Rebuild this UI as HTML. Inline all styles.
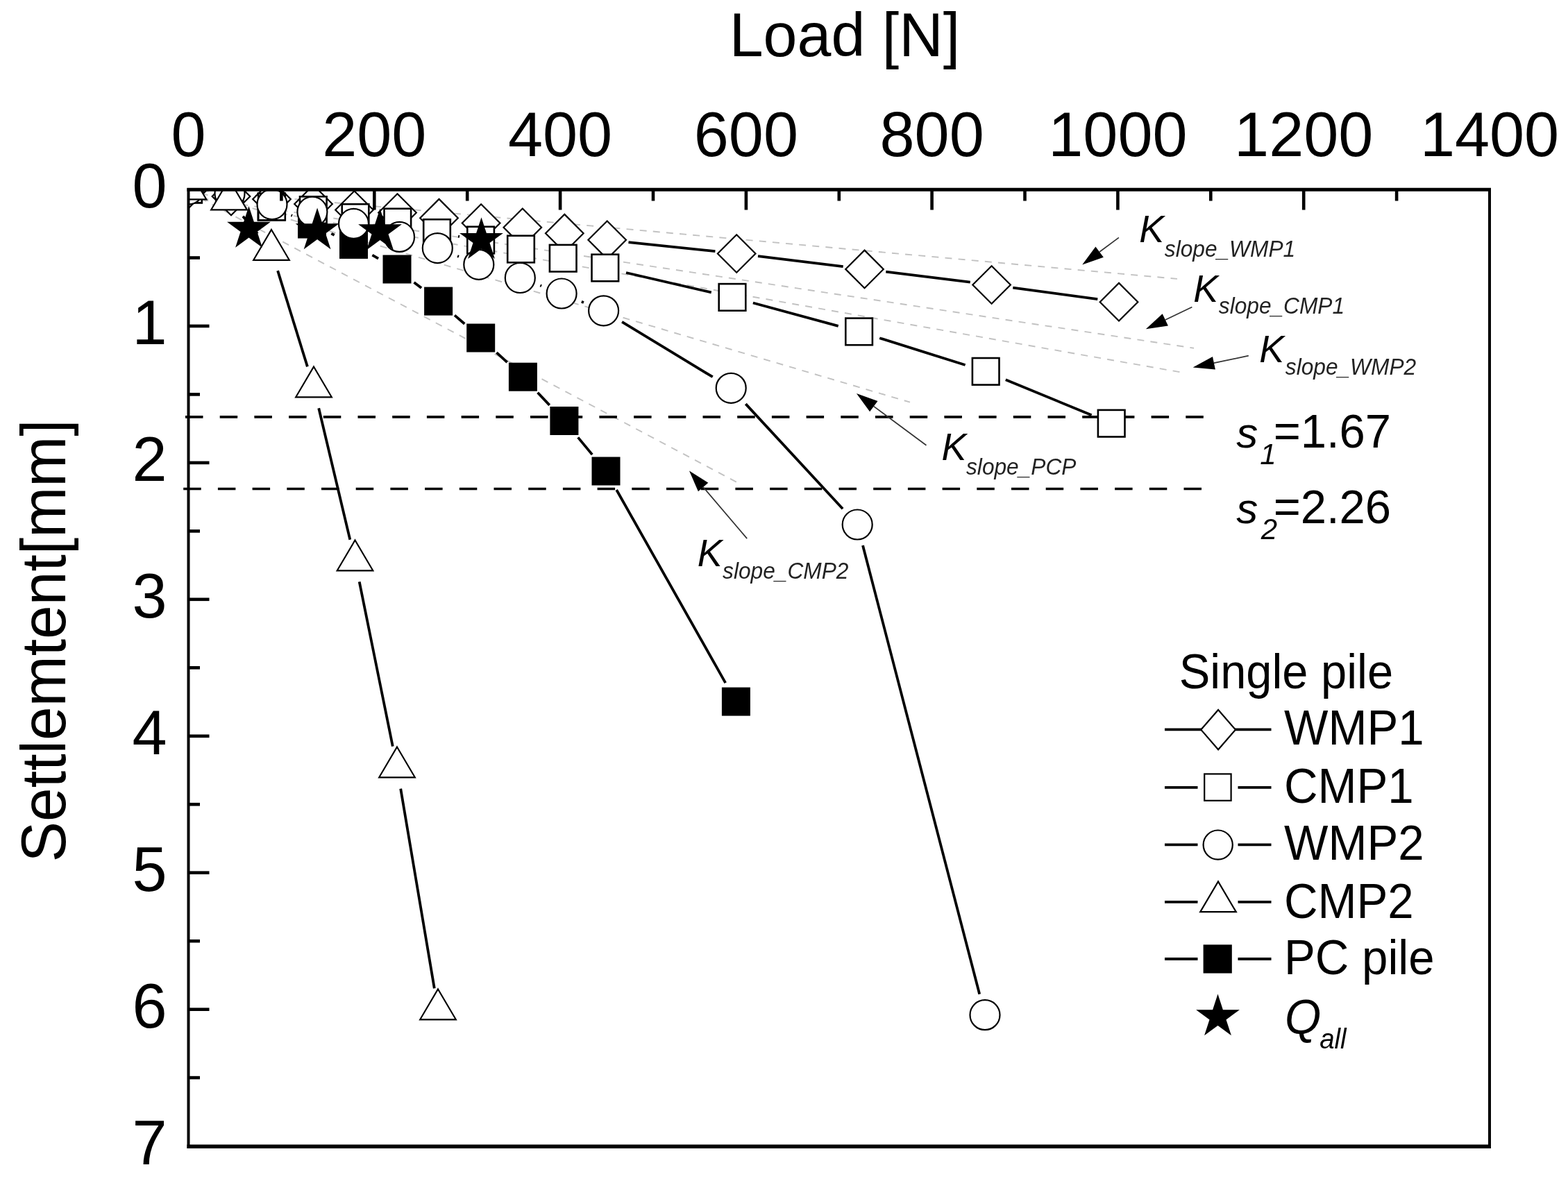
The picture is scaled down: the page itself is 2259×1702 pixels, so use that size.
<!DOCTYPE html><html><head><meta charset="utf-8"><title>Load-settlement</title><style>html,body{margin:0;padding:0;background:#fff;width:2259px;height:1702px;overflow:hidden}</style></head><body><svg width="2259" height="1702" viewBox="0 0 2259 1702" style="display:block;font-family:'Liberation Sans',Arial,sans-serif">
<rect width="2259" height="1702" fill="#fff"/>
<defs><clipPath id="pc"><rect x="271.5" y="273.0" width="1874.5" height="1378.6"/></clipPath></defs>
<g stroke="#c2c2c2" stroke-width="1.9" stroke-dasharray="10 9.2" fill="none"><line x1="271.5" y1="273.0" x2="1696.0" y2="401.9"/><line x1="271.5" y1="283.0" x2="1720.0" y2="501.7"/><line x1="271.5" y1="284.3" x2="1703.0" y2="536.8"/><line x1="271.5" y1="273.0" x2="1311.0" y2="579.7"/><line x1="271.5" y1="276.5" x2="1066.3" y2="697.5"/></g>
<g stroke="#000" stroke-width="3.6" stroke-dasharray="25.5 24.2" fill="none"><line x1="267" y1="600.9" x2="1734" y2="600.9"/><line x1="264.2" y1="704.5" x2="1732" y2="704.5"/></g>
<g clip-path="url(#pc)">
<g stroke="#000" stroke-width="3.8" fill="none" stroke-linecap="butt">
<line x1="905.5" y1="349.1" x2="1030.4" y2="362.2"/><line x1="1092.0" y1="369.2" x2="1214.7" y2="384.2"/><line x1="1276.3" y1="391.7" x2="1397.8" y2="406.7"/><line x1="1459.3" y1="414.6" x2="1581.3" y2="431.1"/>
<line x1="660.1" y1="340.6" x2="662.0" y2="340.9"/><line x1="902.0" y1="393.0" x2="1024.8" y2="421.4"/><line x1="1084.9" y1="436.5" x2="1207.7" y2="469.8"/><line x1="1267.2" y1="487.2" x2="1390.6" y2="526.0"/><line x1="1448.8" y1="547.2" x2="1572.6" y2="598.3"/>
<line x1="539.3" y1="331.0" x2="545.7" y2="332.8"/><line x1="659.1" y1="369.1" x2="661.0" y2="369.8"/><line x1="778.3" y1="411.4" x2="780.1" y2="412.1"/><line x1="837.8" y1="434.8" x2="840.9" y2="436.0"/><line x1="896.1" y1="463.9" x2="1026.7" y2="543.2"/><line x1="1074.3" y1="582.1" x2="1214.1" y2="733.2"/><line x1="1243.0" y1="786.0" x2="1411.2" y2="1432.7"/>
<line x1="350.0" y1="311.7" x2="371.0" y2="336.8"/><line x1="400.1" y1="390.1" x2="442.9" y2="528.4"/><line x1="459.2" y1="588.2" x2="504.3" y2="777.8"/><line x1="517.7" y1="838.4" x2="565.8" y2="1075.6"/><line x1="577.2" y1="1136.6" x2="625.8" y2="1424.4"/>
<line x1="419.5" y1="310.2" x2="421.0" y2="310.8"/><line x1="477.3" y1="336.6" x2="481.7" y2="338.8"/><line x1="536.4" y1="367.7" x2="545.1" y2="372.7"/><line x1="596.5" y1="407.0" x2="607.1" y2="415.1"/><line x1="655.0" y1="454.4" x2="669.3" y2="466.7"/><line x1="715.4" y1="508.1" x2="730.7" y2="522.1"/><line x1="774.6" y1="565.8" x2="791.7" y2="583.9"/><line x1="832.7" y1="630.4" x2="853.2" y2="655.1"/><line x1="888.2" y1="706.0" x2="1045.2" y2="984.1"/>
</g>
<g fill="#000" stroke="none"><rect x="251.0" y="252.5" width="41.0" height="41.0"/><rect x="310.5" y="258.5" width="41.0" height="41.0"/><rect x="370.5" y="277.5" width="41.0" height="41.0"/><rect x="429.0" y="302.5" width="41.0" height="41.0"/><rect x="489.0" y="331.9" width="41.0" height="41.0"/><rect x="551.5" y="367.5" width="41.0" height="41.0"/><rect x="611.1" y="413.6" width="41.0" height="41.0"/><rect x="672.2" y="466.5" width="41.0" height="41.0"/><rect x="732.9" y="522.7" width="41.0" height="41.0"/><rect x="792.4" y="586.0" width="41.0" height="41.0"/><rect x="852.5" y="658.5" width="41.0" height="41.0"/><rect x="1039.9" y="990.6" width="41.0" height="41.0"/></g>
<g stroke="#000" stroke-width="2.2" fill="#fff" stroke-linejoin="miter"><path d="M271.5,245.7L298.8,273.0L271.5,300.3L244.2,273.0Z"/><path d="M333.0,255.7L360.3,283.0L333.0,310.3L305.7,283.0Z"/><path d="M391.5,259.7L418.8,287.0L391.5,314.3L364.2,287.0Z"/><path d="M451.5,266.7L478.8,294.0L451.5,321.3L424.2,294.0Z"/><path d="M510.5,275.2L537.8,302.5L510.5,329.8L483.2,302.5Z"/><path d="M572.5,279.2L599.8,306.5L572.5,333.8L545.2,306.5Z"/><path d="M632.5,286.9L659.8,314.2L632.5,341.5L605.2,314.2Z"/><path d="M693.1,294.2L720.4,321.5L693.1,348.8L665.8,321.5Z"/><path d="M752.8,300.5L780.1,327.8L752.8,355.1L725.5,327.8Z"/><path d="M813.3,308.9L840.6,336.2L813.3,363.5L786.0,336.2Z"/><path d="M874.7,318.5L902.0,345.8L874.7,373.1L847.4,345.8Z"/><path d="M1061.2,338.2L1088.5,365.5L1061.2,392.8L1033.9,365.5Z"/><path d="M1245.5,360.6L1272.8,387.9L1245.5,415.2L1218.2,387.9Z"/><path d="M1428.6,383.2L1455.9,410.5L1428.6,437.8L1401.3,410.5Z"/><path d="M1612.0,407.9L1639.3,435.2L1612.0,462.5L1584.7,435.2Z"/></g>
<g stroke="#000" stroke-width="2.6" fill="#fff"><rect x="252.2" y="253.7" width="38.6" height="38.6"/><rect x="311.7" y="261.7" width="38.6" height="38.6"/><rect x="372.2" y="278.7" width="38.6" height="38.6"/><rect x="432.0" y="283.3" width="38.6" height="38.6"/><rect x="492.7" y="294.2" width="38.6" height="38.6"/><rect x="553.5" y="300.7" width="38.6" height="38.6"/><rect x="610.2" y="316.2" width="38.6" height="38.6"/><rect x="673.3" y="326.7" width="38.6" height="38.6"/><rect x="731.2" y="339.7" width="38.6" height="38.6"/><rect x="791.9" y="352.9" width="38.6" height="38.6"/><rect x="852.5" y="366.7" width="38.6" height="38.6"/><rect x="1035.7" y="409.1" width="38.6" height="38.6"/><rect x="1218.3" y="458.6" width="38.6" height="38.6"/><rect x="1400.9" y="516.0" width="38.6" height="38.6"/><rect x="1581.9" y="590.9" width="38.6" height="38.6"/></g>
<g stroke="#000" stroke-width="2.2" fill="#fff" stroke-linejoin="miter">
<circle cx="271.5" cy="273.0" r="21.5"/><circle cx="331.0" cy="279.0" r="21.5"/><circle cx="392.0" cy="294.5" r="21.5"/><circle cx="449.9" cy="305.2" r="21.5"/><circle cx="509.5" cy="322.4" r="21.5"/><circle cx="575.5" cy="341.4" r="21.5"/><circle cx="630.3" cy="357.6" r="21.5"/><circle cx="689.8" cy="381.3" r="21.5"/><circle cx="749.3" cy="400.5" r="21.5"/><circle cx="809.1" cy="423.0" r="21.5"/><circle cx="869.6" cy="447.8" r="21.5"/><circle cx="1053.2" cy="559.3" r="21.5"/><circle cx="1235.2" cy="756.0" r="21.5"/><circle cx="1419.0" cy="1462.7" r="21.5"/>
<path d="M271.5,243.5L297.3,287.3L245.7,287.3Z"/><path d="M330.0,258.5L355.8,302.3L304.2,302.3Z"/><path d="M391.0,331.0L416.8,374.8L365.2,374.8Z"/><path d="M452.0,528.5L477.8,572.3L426.2,572.3Z"/><path d="M511.5,778.5L537.3,822.3L485.7,822.3Z"/><path d="M572.0,1076.5L597.8,1120.3L546.2,1120.3Z"/><path d="M631.0,1425.5L656.8,1469.3L605.2,1469.3Z"/>
</g>
<g fill="#000" stroke="none"><polygon points="358.5,297.0 365.9,319.8 389.9,319.8 370.5,333.9 377.9,356.7 358.5,342.6 339.1,356.7 346.5,333.9 327.1,319.8 351.1,319.8"/><polygon points="457.1,299.5 464.5,322.3 488.5,322.3 469.1,336.4 476.5,359.2 457.1,345.1 437.7,359.2 445.1,336.4 425.7,322.3 449.7,322.3"/><polygon points="547.5,300.5 554.9,323.3 578.9,323.3 559.5,337.4 566.9,360.2 547.5,346.1 528.1,360.2 535.5,337.4 516.1,323.3 540.1,323.3"/><polygon points="693.5,313.2 700.9,336.0 724.9,336.0 705.5,350.1 712.9,372.9 693.5,358.8 674.1,372.9 681.5,350.1 662.1,336.0 686.1,336.0"/></g>
</g>
<g stroke="#000" fill="none"><line x1="269.5" y1="273.3" x2="2148.0" y2="273.3" stroke-width="5"/><line x1="269.5" y1="1652.2" x2="2148.0" y2="1652.2" stroke-width="5.6"/><line x1="271.5" y1="271" x2="271.5" y2="1655" stroke-width="4"/><line x1="2146.0" y1="271" x2="2146.0" y2="1655" stroke-width="4"/></g>
<g stroke="#000" stroke-width="4.6"><line x1="405.4" y1="273.0" x2="405.4" y2="289.5"/><line x1="539.3" y1="273.0" x2="539.3" y2="302.5"/><line x1="673.2" y1="273.0" x2="673.2" y2="289.5"/><line x1="807.1" y1="273.0" x2="807.1" y2="302.5"/><line x1="941.0" y1="273.0" x2="941.0" y2="289.5"/><line x1="1074.9" y1="273.0" x2="1074.9" y2="302.5"/><line x1="1208.8" y1="273.0" x2="1208.8" y2="289.5"/><line x1="1342.6" y1="273.0" x2="1342.6" y2="302.5"/><line x1="1476.5" y1="273.0" x2="1476.5" y2="289.5"/><line x1="1610.4" y1="273.0" x2="1610.4" y2="302.5"/><line x1="1744.3" y1="273.0" x2="1744.3" y2="289.5"/><line x1="1878.2" y1="273.0" x2="1878.2" y2="302.5"/><line x1="2012.1" y1="273.0" x2="2012.1" y2="289.5"/><line x1="271.5" y1="371.5" x2="288.0" y2="371.5"/><line x1="271.5" y1="469.9" x2="301.5" y2="469.9"/><line x1="271.5" y1="568.4" x2="288.0" y2="568.4"/><line x1="271.5" y1="666.9" x2="301.5" y2="666.9"/><line x1="271.5" y1="765.4" x2="288.0" y2="765.4"/><line x1="271.5" y1="863.8" x2="301.5" y2="863.8"/><line x1="271.5" y1="962.3" x2="288.0" y2="962.3"/><line x1="271.5" y1="1060.8" x2="301.5" y2="1060.8"/><line x1="271.5" y1="1159.2" x2="288.0" y2="1159.2"/><line x1="271.5" y1="1257.7" x2="301.5" y2="1257.7"/><line x1="271.5" y1="1356.2" x2="288.0" y2="1356.2"/><line x1="271.5" y1="1454.7" x2="301.5" y2="1454.7"/><line x1="271.5" y1="1553.1" x2="288.0" y2="1553.1"/></g>
<g fill="#000">
<text transform="translate(271.50,224.50)" font-size="90" font-style="normal" text-anchor="middle" >0</text>
<text transform="translate(539.29,224.50)" font-size="90" font-style="normal" text-anchor="middle" >200</text>
<text transform="translate(807.07,224.50)" font-size="90" font-style="normal" text-anchor="middle" >400</text>
<text transform="translate(1074.86,224.50)" font-size="90" font-style="normal" text-anchor="middle" >600</text>
<text transform="translate(1342.64,224.50)" font-size="90" font-style="normal" text-anchor="middle" >800</text>
<text transform="translate(1610.43,224.50)" font-size="90" font-style="normal" text-anchor="middle" >1000</text>
<text transform="translate(1878.21,224.50)" font-size="90" font-style="normal" text-anchor="middle" >1200</text>
<text transform="translate(2146.00,224.50)" font-size="90" font-style="normal" text-anchor="middle" >1400</text>
<text transform="translate(240.50,299.00)" font-size="90" font-style="normal" text-anchor="end" >0</text>
<text transform="translate(240.50,495.94)" font-size="90" font-style="normal" text-anchor="end" >1</text>
<text transform="translate(240.50,692.89)" font-size="90" font-style="normal" text-anchor="end" >2</text>
<text transform="translate(240.50,889.83)" font-size="90" font-style="normal" text-anchor="end" >3</text>
<text transform="translate(240.50,1086.77)" font-size="90" font-style="normal" text-anchor="end" >4</text>
<text transform="translate(240.50,1283.71)" font-size="90" font-style="normal" text-anchor="end" >5</text>
<text transform="translate(240.50,1480.66)" font-size="90" font-style="normal" text-anchor="end" >6</text>
<text transform="translate(240.50,1677.60)" font-size="90" font-style="normal" text-anchor="end" >7</text>
<text transform="translate(1050.68,80.80) scale(0.9941,1)" font-size="88.5" font-style="normal" text-anchor="start" >Load [N]</text>
<text transform="translate(93.5,1242.38) rotate(-90) scale(0.9737,1)" font-size="90">Settlemtent[mm]</text>
<text transform="translate(1641.15,349.20) scale(0.9600,1)" font-size="56" font-style="italic" text-anchor="start" >K</text>
<text transform="translate(1677.82,369.60) scale(0.9600,1)" font-size="33" font-style="italic" text-anchor="start" fill="#222">slope_WMP1</text>
<text transform="translate(1719.15,434.70) scale(0.9600,1)" font-size="56" font-style="italic" text-anchor="start" >K</text>
<text transform="translate(1755.82,451.60) scale(0.9600,1)" font-size="33" font-style="italic" text-anchor="start" fill="#222">slope_CMP1</text>
<text transform="translate(1814.15,521.70) scale(0.9600,1)" font-size="56" font-style="italic" text-anchor="start" >K</text>
<text transform="translate(1851.82,539.80) scale(0.9600,1)" font-size="33" font-style="italic" text-anchor="start" fill="#222">slope_WMP2</text>
<text transform="translate(1356.55,663.20) scale(0.9600,1)" font-size="56" font-style="italic" text-anchor="start" >K</text>
<text transform="translate(1392.02,683.50) scale(0.9600,1)" font-size="33" font-style="italic" text-anchor="start" fill="#222">slope_PCP</text>
<text transform="translate(1004.85,815.50) scale(0.9600,1)" font-size="56" font-style="italic" text-anchor="start" >K</text>
<text transform="translate(1041.12,834.00) scale(0.9600,1)" font-size="33" font-style="italic" text-anchor="start" fill="#222">slope_CMP2</text>
<text transform="translate(1781.25,644.80)" font-size="62" font-style="italic" text-anchor="start" >s</text>
<text transform="translate(1815.31,668.50)" font-size="42" font-style="italic" text-anchor="start" >1</text>
<text transform="translate(1834.63,644.80) scale(0.9850,1)" font-size="68" font-style="normal" text-anchor="start" >=1.67</text>
<text transform="translate(1781.25,754.40)" font-size="62" font-style="italic" text-anchor="start" >s</text>
<text transform="translate(1816.65,777.00)" font-size="42" font-style="italic" text-anchor="start" >2</text>
<text transform="translate(1834.63,754.40) scale(0.9850,1)" font-size="68" font-style="normal" text-anchor="start" >=2.26</text>
<text transform="translate(1698.77,991.60) scale(0.9440,1)" font-size="70.8" font-style="normal" text-anchor="start" >Single pile</text>
<text transform="translate(1850.00,1073.20) scale(0.9600,1)" font-size="70" font-style="normal" text-anchor="start" >WMP1</text>
<text transform="translate(1850.00,1156.70) scale(0.9600,1)" font-size="70" font-style="normal" text-anchor="start" >CMP1</text>
<text transform="translate(1850.00,1238.80) scale(0.9600,1)" font-size="70" font-style="normal" text-anchor="start" >WMP2</text>
<text transform="translate(1850.00,1323.20) scale(0.9600,1)" font-size="70" font-style="normal" text-anchor="start" >CMP2</text>
<text transform="translate(1850.00,1404.20) scale(0.9600,1)" font-size="70" font-style="normal" text-anchor="start" >PC pile</text>
<text transform="translate(1850.99,1489.70) scale(0.9600,1)" font-size="70" font-style="italic" text-anchor="start" >Q</text>
<text transform="translate(1901.14,1510.80) scale(0.9600,1)" font-size="40" font-style="italic" text-anchor="start" >all</text>
</g>
<g stroke="#000" stroke-width="3.8"><line x1="1678" y1="1051.3" x2="1831.5" y2="1051.3"/><line x1="1678" y1="1134.9" x2="1725.5" y2="1134.9"/><line x1="1783.5" y1="1134.9" x2="1831.5" y2="1134.9"/><line x1="1678" y1="1217.4" x2="1725.5" y2="1217.4"/><line x1="1783.5" y1="1217.4" x2="1831.5" y2="1217.4"/><line x1="1678" y1="1299.9" x2="1725.5" y2="1299.9"/><line x1="1783.5" y1="1299.9" x2="1831.5" y2="1299.9"/><line x1="1678" y1="1382.0" x2="1725.5" y2="1382.0"/><line x1="1783.5" y1="1382.0" x2="1831.5" y2="1382.0"/></g>
<g stroke="#000" stroke-width="2.2" fill="#fff"><path d="M1755.1,1023.0L1779.9,1051.6L1755.1,1080.2L1730.3,1051.6Z"/><rect x="1735.2" y="1115.4" width="38.4" height="38.4"/><circle cx="1754.7" cy="1217.6" r="21.1"/><path d="M1755.0,1270.4L1780.8,1314.2L1729.2,1314.2Z"/></g>
<g fill="#000"><rect x="1733.6" y="1361.4" width="41.2" height="41.2"/><polygon points="1754.5,1432.5 1761.9,1455.3 1785.9,1455.3 1766.5,1469.4 1773.9,1492.2 1754.5,1478.1 1735.1,1492.2 1742.5,1469.4 1723.1,1455.3 1747.1,1455.3"/></g>
<g><line x1="1584.1" y1="363.0" x2="1611.9" y2="342.4" stroke="#333" stroke-width="1.7"/><polygon points="1559.2,381.5 1589.8,370.7 1578.4,355.4" fill="#000"/><line x1="1678.8" y1="460.9" x2="1717.4" y2="442.6" stroke="#333" stroke-width="1.7"/><polygon points="1650.8,474.2 1682.9,469.5 1674.7,452.3" fill="#000"/><line x1="1748.9" y1="523.2" x2="1798.8" y2="512.6" stroke="#333" stroke-width="1.7"/><polygon points="1718.6,529.6 1750.9,532.5 1747.0,513.9" fill="#000"/><line x1="1258.8" y1="585.6" x2="1334.5" y2="641.7" stroke="#333" stroke-width="1.7"/><polygon points="1233.9,567.1 1253.1,593.2 1264.5,577.9" fill="#000"/><line x1="1013.1" y1="702.0" x2="1076.2" y2="776.1" stroke="#333" stroke-width="1.7"/><polygon points="993.0,678.4 1005.9,708.2 1020.3,695.8" fill="#000"/></g>
</svg></body></html>
